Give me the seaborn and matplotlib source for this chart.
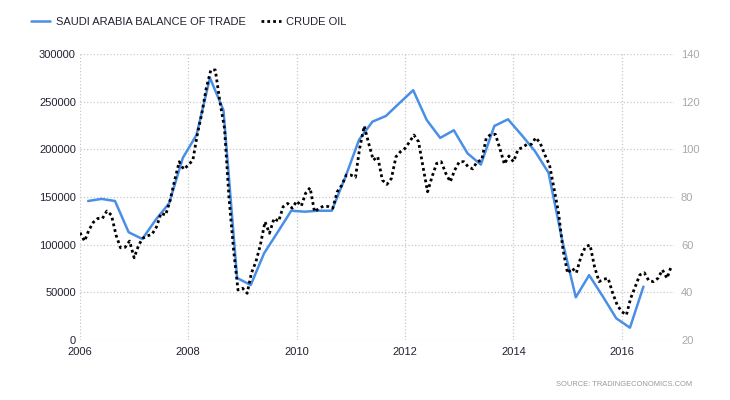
import numpy as np
import pandas as pd
import matplotlib
matplotlib.use('Agg')
import matplotlib.pyplot as plt
import matplotlib.dates as mdates
import seaborn as sns

# ----------------------------------------------------------------------------
# Data

# quarterly balance of trade (SAR million), first quarter 2006 .. second quarter 2016
trade_values = [145800, 148000, 145800, 113000,
                106000, 126000, 143500, 191000,
                215000, 275000, 241000, 65000,
                57700, 91000, 113000, 135600,
                134600, 135600, 135600, 171000,
                210000, 229000, 235000, 248600,
                262000, 230800, 212000, 220000,
                195800, 184000, 224500, 231500,
                215000, 198000, 175500, 105000,
                44800, 68000, 46000, 22700,
                12900, 56000]

# monthly crude oil (USD/bbl), Jan 2006 .. Dec 2016
oil_values = [65.0, 61.5, 66.0, 69.4, 71.0, 71.0, 74.1, 72.4, 64.0, 58.7, 58.9, 61.5,
              54.5, 59.9, 62.7, 63.7, 64.3, 67.5, 73.2, 72.4, 78.7, 87.0, 94.8, 91.6,
              93.4, 95.5, 106.0, 115.0, 125.6, 133.3, 133.3, 120.0, 108.8, 80.0, 58.0, 41.0,
              41.7, 39.6, 48.0, 52.9, 59.9, 69.6, 64.8, 71.0, 69.8, 75.9, 77.3, 75.3,
              78.3, 76.2, 81.5, 83.9, 73.8, 75.3, 76.2, 76.0, 75.3, 82.2, 85.0, 89.2,
              89.2, 88.3, 100.4, 109.8, 102.5, 95.5, 96.9, 87.1, 85.3, 87.8, 96.9, 99.0,
              100.4, 103.2, 106.0, 103.2, 92.7, 82.2, 88.5, 94.1, 94.8, 90.0, 86.4, 91.3,
              94.8, 94.8, 92.7, 91.8, 94.8, 95.5, 104.6, 106.3, 106.3, 100.4, 93.8, 97.2,
              94.8, 100.0, 100.7, 102.1, 102.1, 104.9, 102.5, 97.6, 93.4, 83.7, 73.2, 57.8,
              48.0, 50.1, 48.2, 55.0, 59.1, 59.9, 50.8, 44.5, 45.5, 45.9, 39.6, 34.7,
              31.9, 30.5, 37.5, 42.4, 47.3, 48.2, 44.9, 44.5, 45.9, 49.4, 45.9, 51.2]

left_ticks = [0, 50000, 100000, 150000, 200000, 250000, 300000]
right_ticks = [20, 40, 60, 80, 100, 120, 140]
year_ticks = [2006, 2008, 2010, 2012, 2014, 2016]

trade_label = 'SAUDI ARABIA BALANCE OF TRADE'
oil_label = 'CRUDE OIL'
source_text = 'SOURCE: TRADINGECONOMICS.COM'

# ----------------------------------------------------------------------------

trade = pd.DataFrame({
    'date': pd.date_range('2006-01-01', periods=len(trade_values), freq='QS') + pd.Timedelta(days=55),
    'value': trade_values})
oil = pd.DataFrame({
    'date': pd.date_range('2006-01-01', periods=len(oil_values), freq='MS'),
    'value': oil_values})

sns.set_style('white')
plt.rcParams['font.family'] = ['Liberation Sans', 'DejaVu Sans']

blue = '#4a8fe7'
dark = '#222233'
grey = '#a8a8a8'

fig = plt.figure(figsize=(7.3, 4.0), dpi=100)
ax = fig.add_axes([80 / 730, 1 - 340 / 400, (674 - 80) / 730, (340 - 54) / 400])
ax2 = ax.twinx()

sns.lineplot(data=trade, x='date', y='value', ax=ax, color=blue, linewidth=1.8,
             label=trade_label, legend=False)
sns.lineplot(data=oil, x='date', y='value', ax=ax2, color='black', linewidth=2.0,
             linestyle=(0, (1, 1.1)), label=oil_label, legend=False)

ax.set_xlim(pd.Timestamp('2006-01-01'), pd.Timestamp('2016-12-18'))
ax.set_ylim(0, 300000)
ax2.set_ylim(20, 140)

ax.set_yticks(left_ticks)
ax.set_yticklabels([str(t) for t in left_ticks])
ax2.set_yticks(right_ticks)
ax2.set_yticklabels([str(t) for t in right_ticks])
ax.set_xticks([pd.Timestamp(f'{y}-01-01') for y in year_ticks])
ax.xaxis.set_major_formatter(mdates.DateFormatter('%Y'))

ax.set_xlabel('')
ax.set_ylabel('')
ax2.set_ylabel('')

ax.grid(True, linestyle=':', color='#c8c8c8', linewidth=0.9)
ax2.grid(False)
for a in (ax, ax2):
    for s in a.spines.values():
        s.set_visible(False)

ax.tick_params(axis='y', length=0, pad=3, labelsize=8, labelcolor=dark)
ax.tick_params(axis='x', length=0, pad=5, labelsize=8, labelcolor=dark)
ax2.tick_params(axis='y', length=0, pad=5, labelsize=8, labelcolor=grey)

h1, l1 = ax.get_legend_handles_labels()
h2, l2 = ax2.get_legend_handles_labels()
fig.legend(h1 + h2, l1 + l2, loc='center left', bbox_to_anchor=(31 / 730, 1 - 22 / 400),
           ncol=2, frameon=False, borderaxespad=0, borderpad=0, fontsize=8,
           handlelength=1.75, handletextpad=0.5, columnspacing=1.4, labelcolor=dark)

fig.text(692 / 730, 1 - 384 / 400, source_text, ha='right', va='center',
         fontsize=5.4, color='#999999')

plt.savefig('out.png', dpi=100)
plt.close(fig)
